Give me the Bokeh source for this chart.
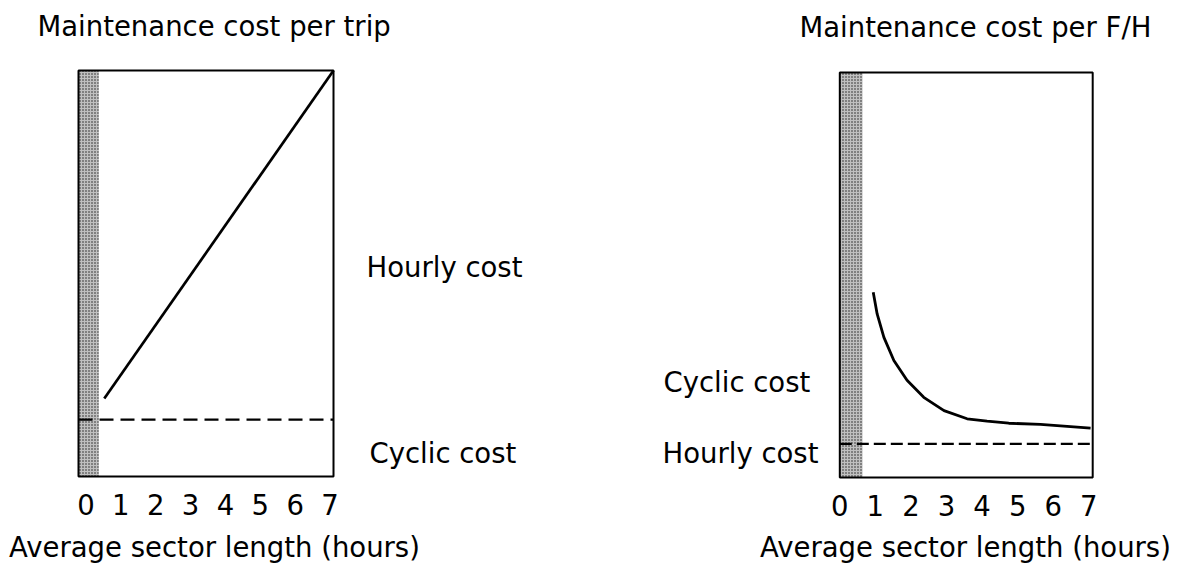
from bokeh.plotting import figure
from bokeh.layouts import row
from bokeh.models import Label, Range1d
from bokeh.embed import file_html
from bokeh.resources import INLINE

FONT = "DejaVu Sans"
FS = "27.5px"
SHIFT = -10.5   # baseline correction for Bokeh text placement (px)

# ---- data -------------------------------------------------------------
hours = [0, 1, 2, 3, 4, 5, 6, 7]
hour_labels = ["0", "1", "2", "3", "4", "5", "6", "7"]

# Left chart: maintenance cost per trip (box spans x -0.215 .. 7.10, y 0 .. 100)
trip_box = (-0.215, 7.10)
trip_x = [0.525, 7.10]
trip_y = [19.2, 100.0]
trip_cyclic_level = 14.0
trip_band_end = 0.367

# Right chart: maintenance cost per F/H (box spans x 0 .. 7.11, y 0 .. 100)
fh_box = (0.0, 7.11)
fh_x = [0.94, 1.05, 1.24, 1.52, 1.89, 2.36, 2.93, 3.58, 4.14, 4.75, 5.64, 7.05]
fh_y = [45.75, 40.4, 34.6, 28.9, 24.0, 19.8, 16.5, 14.5, 13.9, 13.4, 13.1, 12.2]
fh_hourly_level = 8.3
fh_band_end = 0.64

H = 565


class Mapper:
    """page pixel -> data coords for one figure"""
    def __init__(self, page_left, width, x0_px, px_per_unit, y0_px, px_per_y):
        self.page_left, self.width = page_left, width
        self.x0_px, self.sx = x0_px, px_per_unit
        self.y0_px, self.sy = y0_px, px_per_y

    def x(self, px):
        return (px - self.x0_px) / self.sx

    def y(self, py):
        return (self.y0_px - py) / self.sy

    def ranges(self):
        return (Range1d(self.x(self.page_left), self.x(self.page_left + self.width)),
                Range1d(self.y(H), self.y(0)))


def make_fig(m):
    xr, yr = m.ranges()
    p = figure(width=m.width, height=H, x_range=xr, y_range=yr, title=None,
               output_backend="svg", toolbar_location=None,
               x_axis_location=None, y_axis_location=None,
               min_border=0, outline_line_color=None)
    p.xgrid.visible = False
    p.ygrid.visible = False
    p.background_fill_color = "white"
    p.border_fill_color = "white"
    return p


def add_text(p, m, text, px, py, align="left"):
    p.add_layout(Label(x=m.x(px), y=m.y(py + SHIFT), text=text, text_font=FONT,
                       text_font_size=FS, text_color="black", text_align=align,
                       text_baseline="alphabetic"))


def add_frame(p, box, band_end, level, tick_y, dash):
    p.quad(left=[box[0]], right=[band_end], bottom=[0], top=[100], fill_color="#c0c0c0",
           line_color=None, hatch_pattern="dot", hatch_color="#202020",
           hatch_scale=3, hatch_weight=1.3)
    p.line([box[0], box[1]], [level, level], line_color="black", line_width=2.4,
           line_dash=dash)
    p.quad(left=[box[0]], right=[box[1]], bottom=[0], top=[100], fill_color=None,
           line_color="black", line_width=2)
    p.text(x=hours, y=[tick_y] * len(hours), text=hour_labels, text_font={"value": FONT},
           text_font_size=FS, text_color="black", text_align="center",
           text_baseline="alphabetic")


# ---- left figure -----------------------------------------------------
LW = 556
ml = Mapper(0, LW, 85.5, 34.86, 476, 4.06)
p1 = make_fig(ml)
add_frame(p1, trip_box, trip_band_end, trip_cyclic_level, ml.y(514 + SHIFT), "14 7")
p1.line(trip_x, trip_y, line_color="black", line_width=2.7)
add_text(p1, ml, "Maintenance cost per trip", 37, 35.7)
add_text(p1, ml, "Hourly cost", 366, 276.7)
add_text(p1, ml, "Cyclic cost", 369, 463)
add_text(p1, ml, "Average sector length (hours)", 214, 557, align="center")

# ---- right figure ----------------------------------------------------
RW = 620
mr = Mapper(LW, RW, 839.3, 35.57, 477, 4.05)
p2 = make_fig(mr)
add_frame(p2, fh_box, fh_band_end, fh_hourly_level, mr.y(515 + SHIFT), "12 5")
p2.line(fh_x, fh_y, line_color="black", line_width=2.8)
add_text(p2, mr, "Maintenance cost per F/H", 799, 36.7)
add_text(p2, mr, "Cyclic cost", 663, 391.7)
add_text(p2, mr, "Hourly cost", 662, 463.3)
add_text(p2, mr, "Average sector length (hours)", 965, 557, align="center")

layout = row(p1, p2, spacing=0)
open("out.html", "w").write(file_html(layout, INLINE))
